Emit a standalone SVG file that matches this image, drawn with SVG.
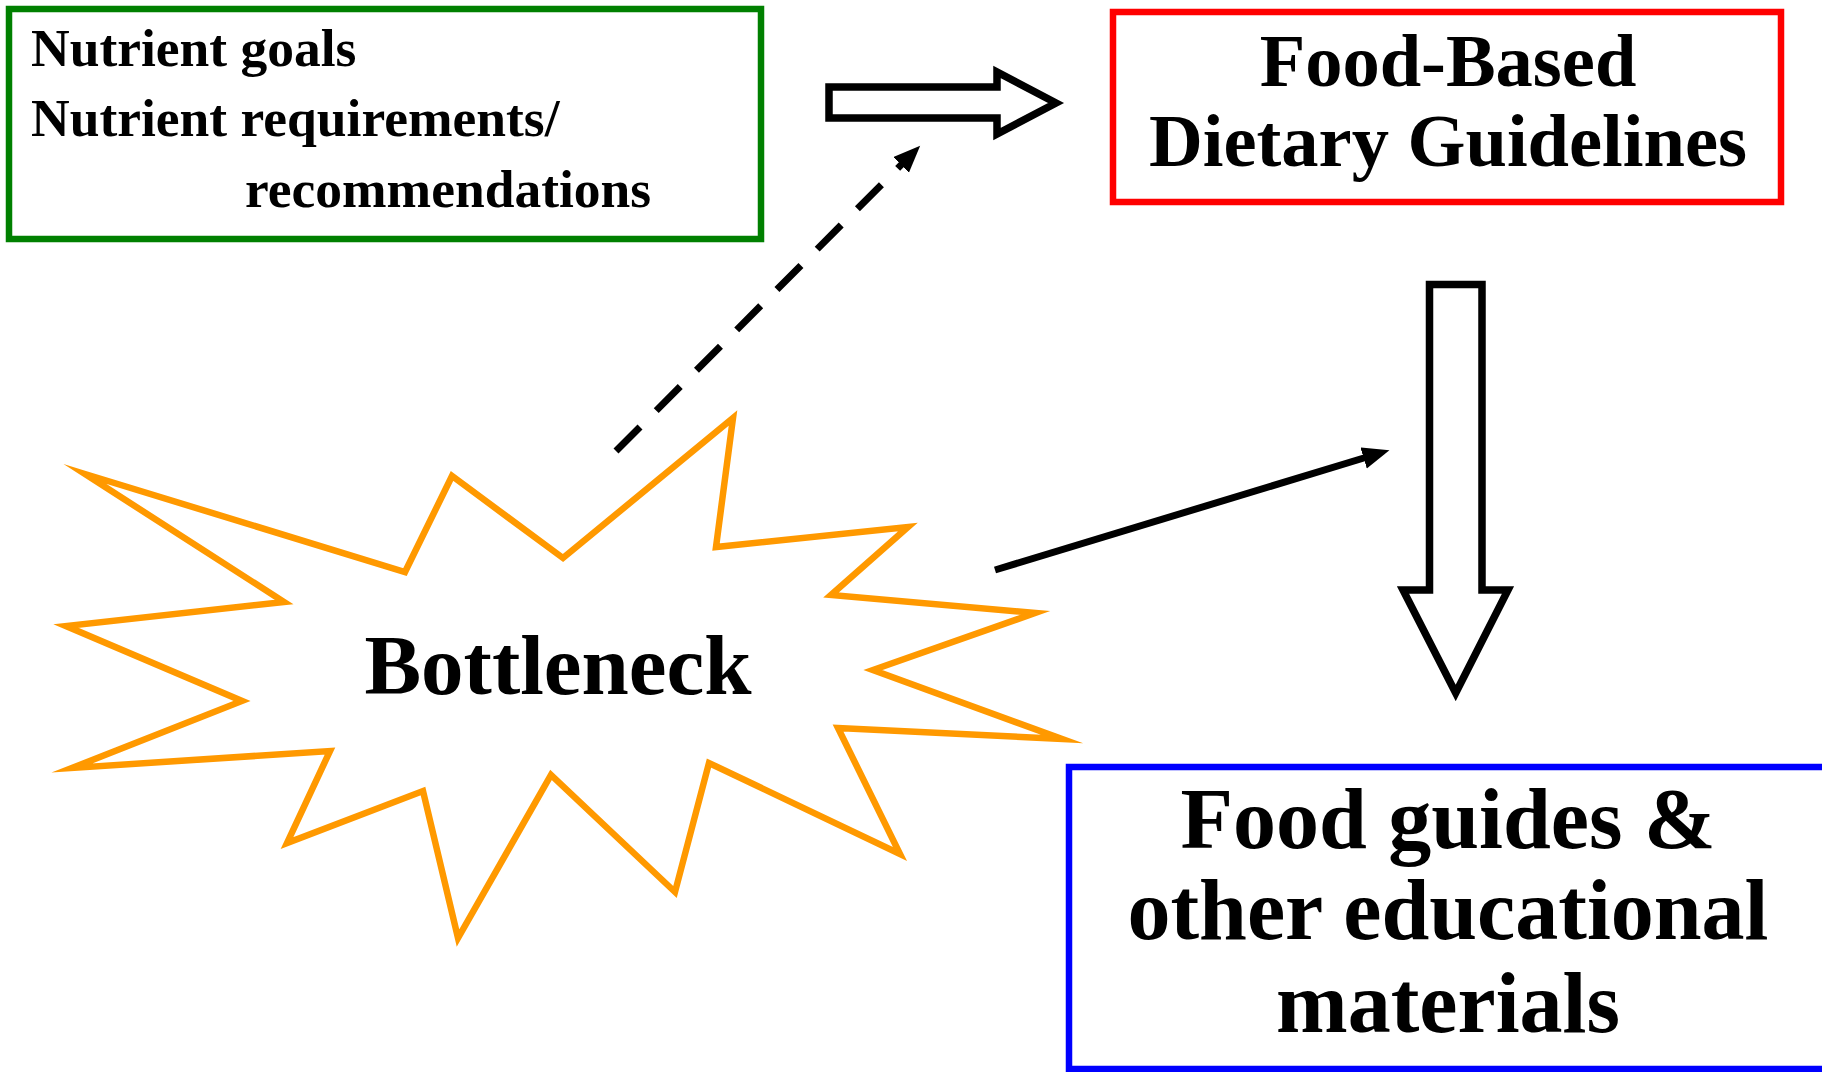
<svg xmlns="http://www.w3.org/2000/svg" width="1822" height="1072" viewBox="0 0 1822 1072">
<style>
.t{font-family:"Liberation Serif","Times New Roman",serif;font-weight:bold;fill:#000}
.box{fill:#fff;stroke-width:6.5}
.blk{fill:#fff;stroke:#000;stroke-width:7.5;stroke-linejoin:miter}
.conn{stroke:#000;stroke-width:7;fill:none}
</style>
<defs>
<marker id="ah" markerUnits="userSpaceOnUse" markerWidth="28" markerHeight="24" refX="14" refY="11" orient="auto" viewBox="0 0 28 24">
<path d="M0,0 L27,11 L0,22 z" fill="#000"/>
</marker>
</defs>
<rect width="1822" height="1072" fill="#fff"/>
<g id="nutrient-box">
<rect class="box" x="9" y="9" width="752" height="230" stroke="#008000"/>
<text class="t" font-size="53.5" x="31" y="66">Nutrient goals</text>
<text class="t" font-size="53.5" x="31" y="136">Nutrient requirements/</text>
<text class="t" font-size="53.5" x="245" y="207">recommendations</text>
</g>
<g id="fbdg-box">
<rect class="box" x="1113" y="12" width="668" height="190" stroke="#FF0000"/>
<text class="t" font-size="74.5" x="1448" y="86" text-anchor="middle">Food-Based</text>
<text class="t" font-size="74.5" x="1448" y="166" text-anchor="middle">Dietary Guidelines</text>
</g>
<g id="food-guides-box">
<rect class="box" x="1069" y="767" width="800" height="302" stroke="#0000FF"/>
<text class="t" font-size="86" x="1448" y="848" text-anchor="middle">Food guides &amp;</text>
<text class="t" font-size="86" x="1448" y="939" text-anchor="middle">other educational</text>
<text class="t" font-size="86" x="1448" y="1032" text-anchor="middle">materials</text>
</g>
<g id="bottleneck">
<polygon points="85,474 405,572 452,476 563,558 733,418 716,547 908,527 831,595 1035,613 873,670 1062,739 838,728 900,854 709,763 675,892 551,775 458,938 423,791 287,843 330,751 72,768 242,701 66,626 284,602" fill="#fff" stroke="#FF9900" stroke-width="6.5" stroke-linejoin="miter" stroke-miterlimit="30"/>
<text class="t" font-size="85" x="558" y="694" text-anchor="middle">Bottleneck</text>
</g>
<g id="connectors">
<polygon id="arrow-right" class="blk" points="829,87 997,87 997,72 1056,103 997,134 997,118 829,118"/>
<polygon id="arrow-down" class="blk" points="1429.5,284.5 1482,284.5 1482,590 1508,590 1455.7,693 1403,590 1429.5,590"/>
<line id="bottleneck-to-fbdg" class="conn" x1="616" y1="451" x2="911" y2="155" stroke-dasharray="34 23" marker-end="url(#ah)"/>
<line id="bottleneck-to-guides" class="conn" x1="995" y1="570" x2="1377" y2="454" marker-end="url(#ah)"/>
</g>
</svg>
